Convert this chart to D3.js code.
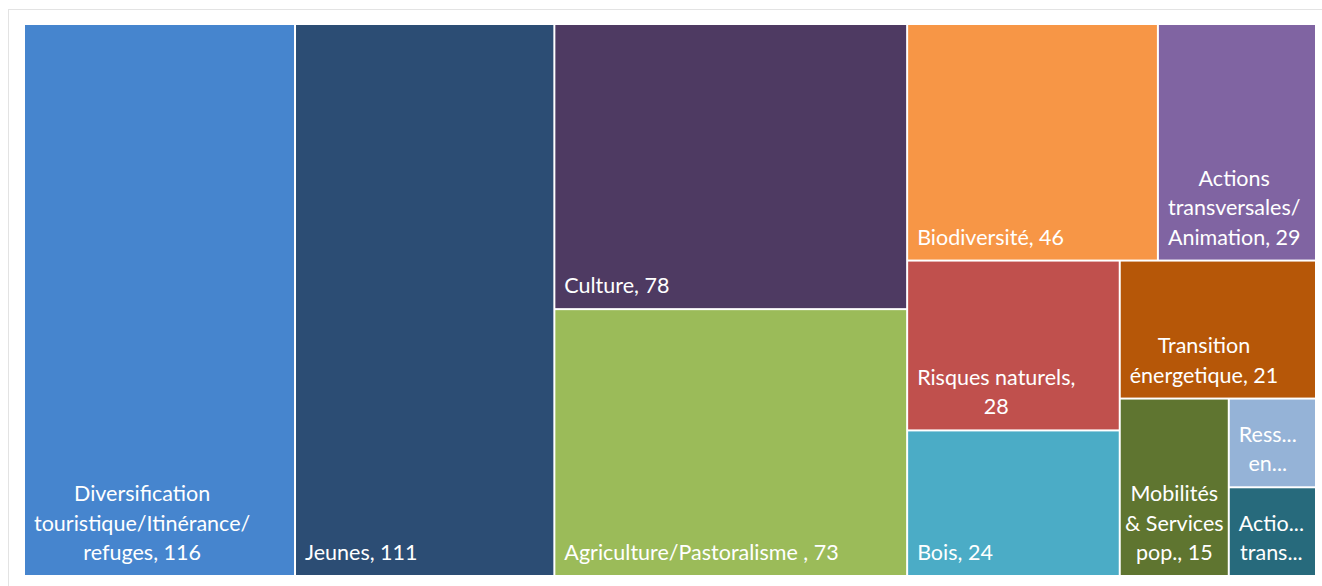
<!DOCTYPE html>
<html>
<head>
<meta charset="utf-8">
<script src="https://cdn.jsdelivr.net/npm/d3@7/dist/d3.min.js"></script>
<style>
  body { margin: 0; background: #fff; }
  svg { display: block; }
  .lbl { font-family: Lato, "Noto Sans", sans-serif; font-size: 21.5px; fill: #fff; }
</style>
</head>
<body>
<svg id="chart" width="1322" height="586"></svg>
<script>
//data ({v} is replaced by the value, \n is a line break as in the source chart)
var categories = ["Diversification\ntouristique/Itinérance/\nrefuges, {v}", "Jeunes, {v}", "Culture, {v}",
  "Agriculture/Pastoralisme , {v}", "Biodiversité, {v}", "Actions\ntransversales/\nAnimation, {v}",
  "Risques naturels,\n{v}", "Bois, {v}", "Transition\nénergetique, {v}",
  "Mobilités\n& Services\npop., {v}", "Ress...\nen...", "Actio...\ntrans..."];
var values = [116, 111, 78, 73, 46, 29, 28, 24, 21, 15, 6, 6];
var colors = ["#4685ce", "#2c4d74", "#4e3a62", "#9bbb59", "#f79646", "#8064a2", "#c0504d", "#4bacc6",
  "#b65708", "#5f7530", "#95b3d7", "#276a7c"];

//variables
var svgWidth = 1322, svgHeight = 586;
var plotLeft = 24, plotTop = 24, plotRight = 1316, plotBottom = 576;
var pad = 10, lineH = 29.5;

var svg = d3.select("#chart");

//chart area border
svg.append("rect")
  .attr("x", 8.5).attr("y", 9.5)
  .attr("width", 1330).attr("height", 600)
  .attr("fill", "none").attr("stroke", "#e3e3e3");

//squarify with a ratio below one (columns stay tall, like the office layout)
function tile(parent, x0, y0, x1, y1) {
  var ratio = 0.8;
  var nodes = parent.children, i0 = 0, i1 = 0, n = nodes.length, value = parent.value;
  while (i0 < n) {
    var dx = x1 - x0, dy = y1 - y0;
    var sumValue = nodes[i1++].value;
    var minValue = sumValue, maxValue = sumValue;
    var alpha = Math.max(dy / dx, dx / dy) / (value * ratio);
    var beta = sumValue * sumValue * alpha;
    var minRatio = Math.max(maxValue / beta, beta / minValue);
    for (; i1 < n; ++i1) {
      var nodeValue = nodes[i1].value;
      sumValue += nodeValue;
      if (nodeValue < minValue) minValue = nodeValue;
      if (nodeValue > maxValue) maxValue = nodeValue;
      beta = sumValue * sumValue * alpha;
      var newRatio = Math.max(maxValue / beta, beta / minValue);
      if (newRatio > minRatio) { sumValue -= nodeValue; break; }
      minRatio = newRatio;
    }
    var row = {value: sumValue, children: nodes.slice(i0, i1)};
    if (dx < dy) {
      d3.treemapDice(row, x0, y0, x1, y0 += dy * sumValue / value);
    } else {
      d3.treemapSlice(row, x0, y0, x0 += dx * sumValue / value, y1);
    }
    value -= sumValue;
    i0 = i1;
  }
}

var rootData = {children: categories.map(function(c, i){ return {name: c, value: values[i], color: colors[i]}; })};
var root = d3.hierarchy(rootData)
  .sum(function(d){ return d.value || 0; })
  .sort(function(a, b){ return b.value - a.value; });

d3.treemap()
  .tile(tile)
  .size([plotRight - plotLeft, plotBottom - plotTop])
  .round(false)(root);

var cells = svg.append("g")
  .attr("transform", "translate(" + plotLeft + "," + plotTop + ")")
  .selectAll("g")
  .data(root.leaves())
  .enter()
  .append("g");

cells.append("rect")
  .attr("x", function(d){ return d.x0 + 1; })
  .attr("y", function(d){ return d.y0 + 1; })
  .attr("width", function(d){ return Math.max(0, d.x1 - d.x0 - 2); })
  .attr("height", function(d){ return Math.max(0, d.y1 - d.y0 - 2); })
  .attr("fill", function(d){ return d.data.color; });

//labels: block left aligned at the bottom, lines centred inside the block
cells.each(function(d){
  var g = d3.select(this);
  var lines = d.data.name.replace("{v}", d.data.value).split("\n");
  var texts = lines.map(function(l){
    return g.append("text").attr("class", "lbl").attr("text-anchor", "middle").text(l);
  });
  var blockW = d3.max(texts, function(t){ return t.node().getComputedTextLength(); });
  var left = Math.min(pad, (d.x1 - d.x0 - blockW) / 2);
  var n = lines.length;
  texts.forEach(function(t, i){
    t.attr("x", d.x0 + left + blockW / 2)
     .attr("y", d.y1 - 16 - (n - 1 - i) * lineH);
  });
});
</script>
</body>
</html>
